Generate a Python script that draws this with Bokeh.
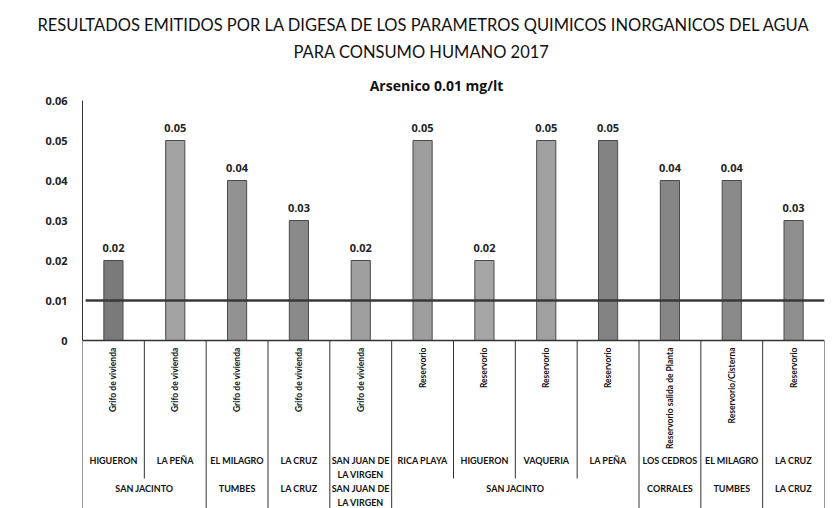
import math
from bokeh.plotting import figure
from bokeh.models import Label, FixedTicker, Range1d, Title
from bokeh.embed import file_html
from bokeh.resources import INLINE
from bokeh.core.properties import value

# ---------------- data ----------------
title_lines = ["RESULTADOS EMITIDOS POR LA DIGESA DE LOS PARAMETROS QUIMICOS INORGANICOS DEL AGUA",
               "PARA CONSUMO HUMANO 2017"]
subtitle = "Arsenico 0.01 mg/lt"
sample_points = ["Grifo de vivienda", "Grifo de vivienda", "Grifo de vivienda", "Grifo de vivienda",
                 "Grifo de vivienda", "Reservorio", "Reservorio", "Reservorio", "Reservorio",
                 "Reservorio salida de Planta", "Reservorio/Cisterna", "Reservorio"]
localities = ["HIGUERON", "LA PEÑA", "EL MILAGRO", "LA CRUZ", "SAN JUAN DE\nLA VIRGEN", "RICA PLAYA",
              "HIGUERON", "VAQUERIA", "LA PEÑA", "LOS CEDROS", "EL MILAGRO", "LA CRUZ"]
districts = ["SAN JACINTO", "SAN JACINTO", "TUMBES", "LA CRUZ", "SAN JUAN DE\nLA VIRGEN", "SAN JACINTO",
             "SAN JACINTO", "SAN JACINTO", "SAN JACINTO", "CORRALES", "TUMBES", "LA CRUZ"]
arsenic = [0.02, 0.05, 0.04, 0.03, 0.02, 0.05, 0.02, 0.05, 0.05, 0.04, 0.04, 0.03]
limit_value = 0.01
y_ticks = [0, 0.01, 0.02, 0.03, 0.04, 0.05, 0.06]
y_tick_labels = ["0", "0.01", "0.02", "0.03", "0.04", "0.05", "0.06"]

# ---------------- styles ----------------
bar_colors = ["#7a7a7a", "#a3a3a3", "#929292", "#8a8a8a", "#9f9f9f", "#9e9e9e",
              "#a6a6a6", "#a0a0a0", "#838383", "#868686", "#8a8a8a", "#8f8f8f"]
LABEL_FONT = value("Lato")
SANS = value("Open Sans")

n = len(arsenic)
W, H = 832, 508
LEFT, RIGHT = 82, 824          # frame edges (px)
TOP = 66                       # frame top (px)
ZERO = 340                     # pixel row of value 0
PX_PER_CAT = (RIGHT - LEFT) / n
PX_PER_UNIT = 4000


def ry(px_below_zero):
    return -px_below_zero / PX_PER_UNIT


def up(px):
    return px / PX_PER_UNIT


p = figure(width=W, height=H, x_range=Range1d(0, n), y_range=Range1d(ry(H - ZERO), up(ZERO - TOP)),
           output_backend="svg", toolbar_location=None, x_axis_location=None,
           min_border_left=LEFT, min_border_right=W - RIGHT, min_border_top=TOP, min_border_bottom=0)
p.outline_line_color = None
p.xgrid.visible = False
p.ygrid.visible = False
p.background_fill_color = "white"
p.border_fill_color = "white"

# two-line title (first added sits nearest the plot)
t2 = Title(text=title_lines[1], align="left", text_font="Lato", text_font_style="normal",
           text_font_size="16.5px", text_color="#111111", offset=293 - LEFT, standoff=9)
t1 = Title(text=title_lines[0], align="left", text_font="Lato", text_font_style="normal",
           text_font_size="16.5px", text_color="#111111", offset=37 - LEFT, standoff=1)
p.add_layout(t2, "above")
p.add_layout(t1, "above")

ax = p.yaxis[0]
ax.ticker = FixedTicker(ticks=y_ticks)
ax.major_label_overrides = {t: l for t, l in zip(y_ticks, y_tick_labels)}
ax.bounds = (y_ticks[0], y_ticks[-1])
ax.major_tick_in = 0
ax.major_tick_out = 0
ax.minor_tick_in = 0
ax.minor_tick_out = 0
ax.axis_line_color = "#333333"
ax.major_label_standoff = 15
ax.major_label_text_font = "Open Sans"
ax.major_label_text_font_style = "bold"
ax.major_label_text_font_size = "11px"
ax.major_label_text_color = "#222222"

xs = [i + 0.5 for i in range(n)]

# bars
p.vbar(x=xs, top=arsenic, bottom=0, width=0.31, fill_color=bar_colors,
       line_color="#4a4a4a", line_width=1)

# limit line
p.segment(x0=[0.05], y0=[limit_value], x1=[n], y1=[limit_value], line_color="#383838", line_width=2.5)

# zero line
p.segment(x0=[0], y0=[0], x1=[n], y1=[0], line_color="#333333", line_width=1.5)

# bar value labels
p.text(x=xs, y=[v + up(13) for v in arsenic], text=[f"{v:.2f}" for v in arsenic],
       text_align="center", text_baseline="middle", text_font=SANS, text_font_style="bold",
       text_font_size="11px", text_color="#222222")

# table separators
long_x, short_x = [], []
for b in range(n + 1):
    if b == 0 or b == n or districts[b - 1] != districts[b]:
        long_x.append(b)
    else:
        short_x.append(b)
p.segment(x0=long_x, y0=[0] * len(long_x), x1=long_x, y1=[ry(H - ZERO)] * len(long_x),
          line_color="#333333", line_width=1)
p.segment(x0=short_x, y0=[0] * len(short_x), x1=short_x, y1=[ry(138)] * len(short_x),
          line_color="#333333", line_width=1)

# subtitle
p.add_layout(Label(x=(436 - LEFT) / PX_PER_CAT, y=up(ZERO - 85), text=subtitle, text_align="center",
                   text_baseline="alphabetic", text_font="Open Sans", text_font_style="bold",
                   text_font_size="14px", text_color="#111111"))

# leaf labels (rotated)
p.text(x=xs, y=[ry(7)] * n, text=sample_points, angle=math.pi / 2,
       text_align="right", text_baseline="middle", text_font=LABEL_FONT, text_font_style="bold",
       text_font_size="8.5px", text_color="#111111")

# locality labels
p.text(x=xs, y=[ry(114)] * n, text=localities, text_align="center", text_baseline="top",
       text_font=LABEL_FONT, text_font_style="bold", text_font_size="9px", text_color="#111111",
       text_line_height=1.3)

# district labels (merged runs)
gx, gl = [], []
start = 0
for i in range(1, n + 1):
    if i == n or districts[i] != districts[start]:
        gx.append((start + i) / 2)
        gl.append(districts[start])
        start = i
p.text(x=gx, y=[ry(142)] * len(gx), text=gl, text_align="center", text_baseline="top",
       text_font=LABEL_FONT, text_font_style="bold", text_font_size="9px", text_color="#111111",
       text_line_height=1.3)

open("out.html", "w").write(file_html(p, INLINE))
